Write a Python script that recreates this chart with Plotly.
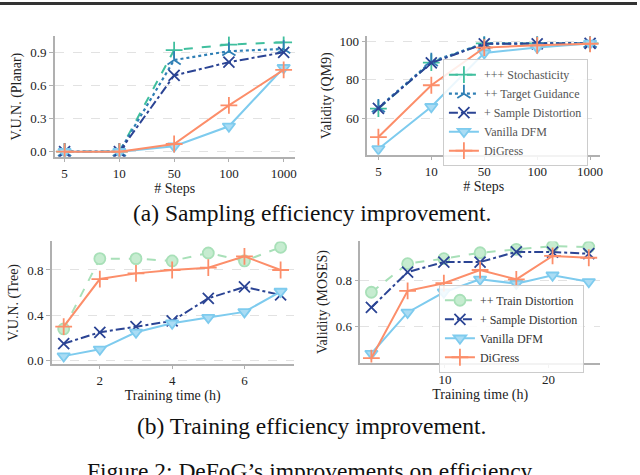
import plotly.graph_objects as go

# ---------------- data ----------------
steps_labels = ["5", "10", "50", "100", "1000"]
steps_pos = [0, 1, 2, 3, 4]

planar_stoch = [0.0, 0.0, 0.92, 0.97, 0.99]
planar_target = [0.0, 0.0, 0.83, 0.91, 0.93]
planar_sample = [0.0, 0.0, 0.69, 0.81, 0.90]
planar_vanilla = [0.0, 0.0, 0.05, 0.23, 0.76]
planar_digress = [0.0, 0.0, 0.07, 0.42, 0.74]

qm9_stoch = [65.0, 89.0, 99.0, 99.0, 99.0]
qm9_target = [65.5, 89.5, 99.0, 99.2, 99.2]
qm9_sample = [65.2, 88.8, 98.8, 98.8, 99.0]
qm9_vanilla = [44.0, 66.0, 94.0, 96.9, 99.0]
qm9_digress = [50.2, 77.2, 96.8, 98.0, 98.8]

tree_time = [1, 2, 3, 4, 5, 6, 7]
tree_train = [0.28, 0.90, 0.90, 0.88, 0.95, 0.88, 1.00]
tree_sample = [0.15, 0.25, 0.30, 0.35, 0.55, 0.65, 0.58]
tree_vanilla = [0.04, 0.10, 0.25, 0.33, 0.38, 0.43, 0.61]
tree_digress = [0.30, 0.72, 0.77, 0.80, 0.82, 0.92, 0.80]

moses_time = [2.9, 6.4, 9.9, 13.4, 16.9, 20.4, 23.9]
moses_train = [0.75, 0.876, 0.898, 0.924, 0.939, 0.953, 0.949]
moses_sample = [0.683, 0.839, 0.883, 0.883, 0.928, 0.927, 0.92]
moses_vanilla = [0.48, 0.661, 0.75, 0.807, 0.788, 0.825, 0.796]
moses_digress = [0.46, 0.756, 0.79, 0.848, 0.807, 0.91, 0.902]

# ---------------- styles ----------------
TEAL = "#40bf9e"
STEEL = "#2f7fb5"
NAVY = "#2b4494"
LBLUE = "#7ecbee"
LBLUE_F = "#aadcf4"
SALMON = "#fc8e6a"
MINT = "#a8e0b8"
MINT_F = "#c6ecd0"
SERIF = "Liberation Serif, DejaVu Serif, serif"

styles = {
    "+++ Stochasticity": dict(line=dict(color=TEAL, width=2, dash="dash"),
                              marker=dict(symbol="cross-thin", size=12, line=dict(color=TEAL, width=1.8))),
    "++ Target Guidance": dict(line=dict(color=STEEL, width=2.2, dash="dot"),
                               marker=dict(symbol="y-up", size=11, line=dict(color=STEEL, width=1.8))),
    "+ Sample Distortion": dict(line=dict(color=NAVY, width=2, dash="dashdot"),
                                marker=dict(symbol="x-thin", size=11, line=dict(color=NAVY, width=1.8))),
    "Vanilla DFM": dict(line=dict(color=LBLUE, width=2),
                        marker=dict(symbol="triangle-down", size=11, color=LBLUE_F, line=dict(color=LBLUE, width=1.8))),
    "DiGress": dict(line=dict(color=SALMON, width=2),
                    marker=dict(symbol="cross-thin", size=12, line=dict(color=SALMON, width=1.8))),
    "++ Train Distortion": dict(line=dict(color=MINT, width=2, dash="dash"),
                                marker=dict(symbol="circle", size=11, color=MINT_F, line=dict(color=MINT, width=1.8))),
}

fig = go.Figure()


def add(x, y, name, xa, ya, legend=None):
    st = styles[name]
    fig.add_trace(go.Scatter(
        x=x, y=y, mode="lines+markers", name=name,
        line=st["line"], marker=st["marker"],
        xaxis=xa, yaxis=ya,
        showlegend=legend is not None,
        legend=legend if legend else "legend",
    ))


# top-left
add(steps_pos, planar_stoch, "+++ Stochasticity", "x", "y")
add(steps_pos, planar_target, "++ Target Guidance", "x", "y")
add(steps_pos, planar_sample, "+ Sample Distortion", "x", "y")
add(steps_pos, planar_vanilla, "Vanilla DFM", "x", "y")
add(steps_pos, planar_digress, "DiGress", "x", "y")
# top-right
add(steps_pos, qm9_stoch, "+++ Stochasticity", "x2", "y2", "legend")
add(steps_pos, qm9_target, "++ Target Guidance", "x2", "y2", "legend")
add(steps_pos, qm9_sample, "+ Sample Distortion", "x2", "y2", "legend")
add(steps_pos, qm9_vanilla, "Vanilla DFM", "x2", "y2", "legend")
add(steps_pos, qm9_digress, "DiGress", "x2", "y2", "legend")
# bottom-left
add(tree_time, tree_train, "++ Train Distortion", "x3", "y3")
add(tree_time, tree_sample, "+ Sample Distortion", "x3", "y3")
add(tree_time, tree_vanilla, "Vanilla DFM", "x3", "y3")
add(tree_time, tree_digress, "DiGress", "x3", "y3")
# bottom-right
add(moses_time, moses_train, "++ Train Distortion", "x4", "y4", "legend2")
add(moses_time, moses_sample, "+ Sample Distortion", "x4", "y4", "legend2")
add(moses_time, moses_vanilla, "Vanilla DFM", "x4", "y4", "legend2")
add(moses_time, moses_digress, "DiGress", "x4", "y4", "legend2")

W, H = 640, 475


def px_x(a, b):
    return [a / W, b / W]


def px_y(top, bottom):
    return [1 - bottom / H, 1 - top / H]


axis_common = dict(
    showline=True, linecolor="#b0b0b0", linewidth=1.5,
    ticks="outside", ticklen=4, tickcolor="#b0b0b0", tickwidth=1.2,
    tickfont=dict(family=SERIF, size=13, color="#222"),
    zeroline=False, mirror=False,
)
xcommon = dict(axis_common, showgrid=False)
ycommon = dict(axis_common, showgrid=True, gridcolor="#e2e2e2", griddash="dash", gridwidth=1)
tfont = dict(family=SERIF, size=14, color="#222")

fig.update_layout(
    width=W, height=H,
    margin=dict(l=0, r=0, t=0, b=0),
    plot_bgcolor="white", paper_bgcolor="white",
    xaxis=dict(xcommon, domain=px_x(55, 296), anchor="y", range=[-0.18, 4.2],
               tickvals=steps_pos, ticktext=steps_labels,
               title=dict(text="# Steps", font=tfont, standoff=0)),
    yaxis=dict(ycommon, domain=px_y(35, 157), anchor="x", range=[-0.045, 1.043],
               tickvals=[0.0, 0.3, 0.6, 0.9], tickformat=".1f",
               title=dict(text="V.U.N. (Planar)", font=tfont, standoff=5)),
    xaxis2=dict(xcommon, domain=px_x(369, 603), anchor="y2", range=[-0.21, 4.19],
                tickvals=steps_pos, ticktext=steps_labels,
                title=dict(text="# Steps", font=tfont, standoff=0)),
    yaxis2=dict(ycommon, domain=px_y(35, 155), anchor="x2", range=[41, 102.6],
                tickvals=[60, 80, 100],
                title=dict(text="Validity (QM9)", font=tfont, standoff=5)),
    xaxis3=dict(xcommon, domain=px_x(52, 295), anchor="y3", range=[0.67, 7.36],
                tickvals=[2, 4, 6],
                title=dict(text="Training time (h)", font=tfont, standoff=0)),
    yaxis3=dict(ycommon, domain=px_y(243, 367), anchor="x3", range=[-0.026, 1.052],
                tickvals=[0.0, 0.4, 0.8], tickformat=".1f",
                title=dict(text="V.U.N. (Tree)", font=tfont, standoff=5)),
    xaxis4=dict(xcommon, domain=px_x(362, 603), anchor="y4", range=[1.83, 25.0],
                tickvals=[10, 20],
                title=dict(text="Training time (h)", font=tfont, standoff=0)),
    yaxis4=dict(ycommon, domain=px_y(243, 366), anchor="x4", range=[0.44, 0.974],
                tickvals=[0.6, 0.8], tickformat=".1f",
                title=dict(text="Validity (MOSES)", font=tfont, standoff=5)),
    legend=dict(x=445 / W, y=1 - 58 / H, xanchor="left", yanchor="top",
                bgcolor="rgba(255,255,255,0.85)", bordercolor="#cccccc", borderwidth=1,
                font=dict(family=SERIF, size=12, color="#555"),
                tracegroupgap=0, itemwidth=30),
    legend2=dict(x=441 / W, y=1 - 287 / H, xanchor="left", yanchor="top",
                 bgcolor="rgba(255,255,255,0.85)", bordercolor="#cccccc", borderwidth=1,
                 font=dict(family=SERIF, size=12, color="#333"),
                 tracegroupgap=0, itemwidth=30),
    shapes=[dict(type="rect", xref="paper", yref="paper", x0=0, x1=1, y0=1 - 3 / H, y1=1,
                 fillcolor="#333333", line=dict(width=0))],
    annotations=[
        dict(text="(a) Sampling efficiency improvement.", xref="paper", yref="paper",
             x=313 / W, y=1 - 214 / H, xanchor="center", yanchor="middle", showarrow=False,
             font=dict(family=SERIF, size=23.5, color="#111")),
        dict(text="(b) Training efficiency improvement.", xref="paper", yref="paper",
             x=313 / W, y=1 - 430 / H, xanchor="center", yanchor="middle", showarrow=False,
             font=dict(family=SERIF, size=23.5, color="#111")),
        dict(text="Figure 2: DeFoG’s improvements on efficiency.", xref="paper", yref="paper",
             x=313 / W, y=1 - 461 / H, xanchor="center", yanchor="top", showarrow=False,
             font=dict(family=SERIF, size=23.5, color="#111")),
    ],
)

fig.write_html("out.html", config={"displayModeBar": False},
               post_script="document.body.style.margin='0';document.body.style.padding='0';")
